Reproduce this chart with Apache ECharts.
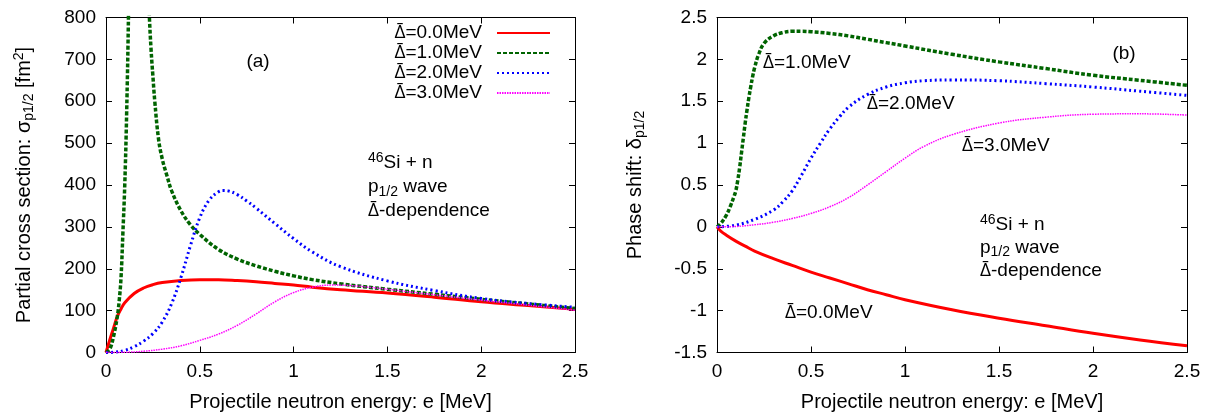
<!DOCTYPE html>
<html>
<head>
<meta charset="utf-8">
<script src="https://cdn.jsdelivr.net/npm/echarts@6/dist/echarts.min.js"></script>
<style>
html, body { margin: 0; padding: 0; background: #fff; }
#chart { width: 1210px; height: 416px; }
</style>
</head>
<body>
<div id="chart"></div>
<script>
// 46Si + n, p1/2 wave: partial cross section (a) and phase shift (b)
// versus projectile neutron energy e [MeV], for four values of Delta-bar.

const DBAR = '\u0394\u0304';
const curveNames = [DBAR + '=0.0MeV', DBAR + '=1.0MeV', DBAR + '=2.0MeV', DBAR + '=3.0MeV'];

// (a) partial cross section sigma_p1/2 [fm^2], pairs [e, sigma]
const sigmaD0 = [[0,0],[0.02,30],[0.04,58],[0.06,86],[0.08,104],[0.1,119],[0.15,141],[0.2,154],[0.25,162],[0.3,167],[0.4,172],[0.5,174],[0.6,174],[0.7,172],[0.8,169],[0.9,165],[1.0,161],[1.1,156],[1.25,150],[1.5,142],[1.75,132],[2.0,121],[2.25,112],[2.5,103]];
const sigmaD1 = [[0,0],[0.02,8],[0.04,38],[0.06,85],[0.07,122],[0.08,178],[0.09,285],[0.1,400],[0.11,570],[0.12,810],[0.13,1150],[0.15,1650],[0.17,1850],[0.19,1600],[0.2,1300],[0.22,950],[0.23,815],[0.24,725],[0.25,660],[0.26,600],[0.28,510],[0.3,462],[0.325,422],[0.35,386],[0.4,338],[0.45,305],[0.5,282],[0.6,246],[0.7,223],[0.8,207],[0.9,194],[1.0,183],[1.1,174],[1.25,164],[1.5,151],[1.75,139],[2.0,127],[2.25,116],[2.5,105]];
const sigmaD2 = [[0,0],[0.05,1],[0.1,5],[0.15,14],[0.2,27],[0.25,45],[0.3,73],[0.35,117],[0.4,180],[0.45,255],[0.5,322],[0.55,364],[0.6,384],[0.625,387],[0.65,386],[0.7,377],[0.75,362],[0.8,345],[0.9,308],[1.0,272],[1.1,240],[1.25,205],[1.5,171],[1.75,148],[2.0,129],[2.25,117],[2.5,108]];
const sigmaD3 = [[0,0],[0.1,0.5],[0.2,3],[0.3,8],[0.4,16],[0.5,29],[0.6,44],[0.7,65],[0.8,92],[0.9,121],[1.0,143],[1.1,156],[1.2,161],[1.3,160],[1.4,156],[1.5,151],[1.75,138],[2.0,125],[2.25,113],[2.5,101]];

// (b) phase shift delta_p1/2, pairs [e, delta]
const deltaD0 = [[0,0],[0.02,-0.05],[0.05,-0.1],[0.1,-0.17],[0.15,-0.23],[0.2,-0.29],[0.3,-0.38],[0.4,-0.46],[0.5,-0.54],[0.6,-0.61],[0.7,-0.68],[0.8,-0.75],[0.9,-0.81],[1.0,-0.87],[1.25,-0.99],[1.5,-1.09],[1.75,-1.18],[2.0,-1.27],[2.25,-1.35],[2.5,-1.42]];
const deltaD1 = [[0,0],[0.02,0.04],[0.05,0.14],[0.07,0.24],[0.09,0.36],[0.1,0.43],[0.11,0.55],[0.12,0.7],[0.13,0.88],[0.14,1.06],[0.15,1.24],[0.16,1.4],[0.17,1.55],[0.18,1.68],[0.19,1.8],[0.2,1.9],[0.22,2.05],[0.25,2.19],[0.3,2.28],[0.35,2.32],[0.4,2.335],[0.45,2.335],[0.5,2.33],[0.6,2.31],[0.7,2.28],[0.8,2.24],[0.9,2.2],[1.0,2.16],[1.25,2.06],[1.5,1.97],[1.75,1.89],[2.0,1.81],[2.25,1.75],[2.5,1.69]];
const deltaD2 = [[0,0],[0.1,0.02],[0.2,0.09],[0.3,0.2],[0.35,0.3],[0.4,0.43],[0.45,0.62],[0.5,0.82],[0.55,1.0],[0.6,1.17],[0.65,1.31],[0.7,1.43],[0.8,1.58],[0.9,1.67],[1.0,1.72],[1.1,1.745],[1.25,1.755],[1.5,1.745],[1.75,1.71],[2.0,1.67],[2.25,1.62],[2.5,1.57]];
const deltaD3 = [[0,0],[0.1,0.005],[0.2,0.025],[0.3,0.055],[0.4,0.1],[0.5,0.16],[0.6,0.24],[0.7,0.35],[0.8,0.5],[0.9,0.66],[1.0,0.82],[1.1,0.96],[1.25,1.1],[1.5,1.24],[1.75,1.31],[2.0,1.345],[2.25,1.35],[2.5,1.335]];

// axis ranges
const energyRange = { min: 0, max: 2.5, interval: 0.5 };
const sigmaRange = { min: 0, max: 800, interval: 100 };
const deltaRange = { min: -1.5, max: 2.5, interval: 0.5 };

const FONT = 'Liberation Sans';
// a face whose combining macron sits centred over the Delta
const DFONT = 'Open Sans';
const FS = 19;
const TITLE_FS = 20;

const lineStyles = [
  { color: '#ff0000', width: 3, type: 'solid' },
  { color: '#006400', width: 3.5, type: [4, 2] },
  { color: '#0000ff', width: 3, type: [2, 3] },
  { color: '#ff00ff', width: 1.5, type: [1.5, 1] }
];

const subSup = {
  n: { fontSize: TITLE_FS, fontFamily: FONT, color: '#000', lineHeight: 24 },
  sub: { fontSize: 14, fontFamily: FONT, color: '#000', verticalAlign: 'bottom', lineHeight: 10 },
  sup: { fontSize: 14, fontFamily: FONT, color: '#000', verticalAlign: 'top', lineHeight: 13 }
};

// rich-text form of a "Delta-bar=..." caption
function dbarRich(name) {
  return '{d|' + DBAR + '}{n|' + name.slice(DBAR.length) + '}';
}

function makeAxis(gridIndex, range, position, withLabel, extra) {
  return Object.assign({
    type: 'value',
    gridIndex: gridIndex,
    position: position,
    min: range.min, max: range.max, interval: range.interval,
    axisLine: { show: true, onZero: false, lineStyle: { color: '#000', width: 1 } },
    axisTick: { show: true, inside: true, length: 6, lineStyle: { color: '#000', width: 1 } },
    splitLine: { show: false },
    axisLabel: withLabel
      ? { show: true, fontSize: FS, fontFamily: FONT, color: '#000', margin: 10 }
      : { show: false }
  }, extra || {});
}

const xTitle = {
  name: 'Projectile neutron energy: e [MeV]',
  nameLocation: 'middle',
  nameGap: 40,
  nameTextStyle: { fontSize: TITLE_FS, fontFamily: FONT, color: '#000' }
};

const xAxes = [
  makeAxis(0, energyRange, 'bottom', true, xTitle),
  makeAxis(0, energyRange, 'top', false),
  makeAxis(1, energyRange, 'bottom', true, xTitle),
  makeAxis(1, energyRange, 'top', false)
];

const yAxes = [
  makeAxis(0, sigmaRange, 'left', true, {
    name: '{n|Partial cross section: \u03c3}{sub|p1/2}{n| [fm}{sup|2}{n|]}',
    nameLocation: 'middle', nameRotate: 90, nameGap: 70,
    nameTextStyle: { rich: subSup }
  }),
  makeAxis(0, sigmaRange, 'right', false),
  makeAxis(1, deltaRange, 'left', true, {
    name: '{n|Phase shift: \u03b4}{sub|p1/2}',
    nameLocation: 'middle', nameRotate: 90, nameGap: 70,
    nameTextStyle: { rich: subSup }
  }),
  makeAxis(1, deltaRange, 'right', false)
];

const sigmaSets = [sigmaD0, sigmaD1, sigmaD2, sigmaD3];
const deltaSets = [deltaD0, deltaD1, deltaD2, deltaD3];

function curve(name, data, idx, axisIndex) {
  return {
    type: 'line',
    name: name,
    xAxisIndex: axisIndex,
    yAxisIndex: axisIndex,
    data: data,
    showSymbol: false,
    symbol: 'none',
    smooth: 0.4,
    clip: true,
    silent: true,
    lineStyle: lineStyles[idx],
    itemStyle: { color: lineStyles[idx].color },
    z: 2 + idx
  };
}

const series = [];
curveNames.forEach((nm, i) => series.push(curve(nm, sigmaSets[i], i, 0)));
curveNames.forEach((nm, i) => series.push(curve(nm, deltaSets[i], i, 2)));

const captionRich = {
  n: { fontSize: FS, fontFamily: FONT, fill: '#000' },
  d: { fontSize: FS, fontFamily: DFONT, fill: '#000' }
};

function label(text, x, y, align) {
  return {
    type: 'text', x: x, y: y, silent: true,
    style: {
      text: text, fill: '#000', fontSize: FS, fontFamily: FONT,
      align: align || 'left', verticalAlign: 'middle'
    }
  };
}

function curveCaption(name, x, y) {
  return {
    type: 'text', x: x, y: y, silent: true,
    style: { text: dbarRich(name), rich: captionRich, align: 'left', verticalAlign: 'middle', fill: '#000' }
  };
}

function noteBlock(x, y, lh) {
  const rich = {
    n: { fontSize: FS, fontFamily: FONT, fill: '#000', lineHeight: lh },
    d: { fontSize: FS, fontFamily: DFONT, fill: '#000', lineHeight: lh },
    sub: { fontSize: 14, fontFamily: FONT, fill: '#000', verticalAlign: 'bottom', lineHeight: 10 },
    sup: { fontSize: 14, fontFamily: FONT, fill: '#000', verticalAlign: 'top', lineHeight: 13 }
  };
  return {
    type: 'text', x: x, y: y, silent: true,
    style: {
      text: '{sup|46}{n|Si + n}\n{n|p}{sub|1/2}{n| wave}\n{d|' + DBAR + '}{n|-dependence}',
      rich: rich, align: 'left', verticalAlign: 'top', fill: '#000'
    }
  };
}

const option = {
  backgroundColor: '#fff',
  animation: false,
  grid: [
    { left: 106, top: 17.5, width: 469, height: 335, outerBoundsMode: 'none', containLabel: false },
    { left: 717, top: 17.5, width: 470, height: 335, outerBoundsMode: 'none', containLabel: false }
  ],
  xAxis: xAxes,
  yAxis: yAxes,
  legend: {
    data: curveNames,
    orient: 'vertical',
    align: 'right',
    right: 659,
    top: 23,
    padding: 0,
    itemWidth: 53,
    itemHeight: 12,
    itemGap: 0,
    selectedMode: false,
    itemStyle: { opacity: 0 },
    formatter: dbarRich,
    textStyle: {
      fontSize: FS, fontFamily: FONT, color: '#000', lineHeight: 20, padding: [0, 10, 0, 0],
      rich: {
        n: { fontSize: FS, fontFamily: FONT, color: '#000', lineHeight: 20 },
        d: { fontSize: FS, fontFamily: DFONT, color: '#000', lineHeight: 20 }
      }
    }
  },
  graphic: [
    label('(a)', 258, 62, 'center'),
    noteBlock(368, 151, 24),
    label('(b)', 1124, 54, 'center'),
    curveCaption(curveNames[1], 763, 63),
    curveCaption(curveNames[2], 867, 104),
    curveCaption(curveNames[3], 962, 146),
    curveCaption(curveNames[0], 785, 313),
    noteBlock(980, 213, 23)
  ],
  series: series
};

const chart = echarts.init(document.getElementById('chart'), null, { renderer: 'canvas' });
chart.setOption(option);
</script>
</body>
</html>
